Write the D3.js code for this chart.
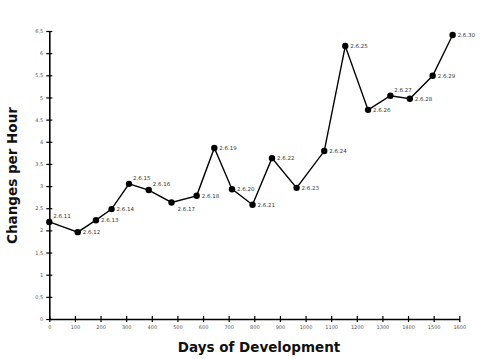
<!DOCTYPE html>
<html><head><meta charset="utf-8">
<script src="https://cdn.jsdelivr.net/npm/d3@7"></script>
<style>body{margin:0;background:#fff}svg{display:block}</style>
</head><body>
<script>
const versions = ["2.6.11","2.6.12","2.6.13","2.6.14","2.6.15","2.6.16","2.6.17","2.6.18","2.6.19","2.6.20","2.6.21","2.6.22","2.6.23","2.6.24","2.6.25","2.6.26","2.6.27","2.6.28","2.6.29","2.6.30"];
const days = [0,111,182,243,311,388,477,575,644,713,793,869,965,1073,1155,1244,1331,1407,1496,1574];
const changes = [2.19,1.96,2.23,2.48,3.05,2.91,2.63,2.78,3.86,2.93,2.58,3.63,2.96,3.79,6.16,4.72,5.04,4.97,5.49,6.41];
// label placement: 0 = right, 1 = above-right, 2 = below-right
const labelPos = [1,0,0,0,1,1,2,0,0,0,0,0,0,0,0,0,1,0,0,0];
const xTicks = d3.range(0,1601,100);
const yTicks = [0,0.5,1,1.5,2,2.5,3,3.5,4,4.5,5,5.5,6,6.5];
const yTickLabels = ["0","0,5","1","1,5","2","2,5","3","3,5","4","4,5","5","5,5","6","6,5"];

const W=480,H=359;
const svg=d3.select("body").append("svg").attr("width",W).attr("height",H);
const x=d3.scaleLinear().domain([0,1600]).range([49.3,459.3]);
const y=d3.scaleLinear().domain([0,6.5]).range([319,31]);

const xa=svg.append("g").attr("transform","translate(0,319)")
  .call(d3.axisBottom(x).tickValues(xTicks).tickFormat(d3.format("d")).tickSize(3).tickSizeOuter(0).tickPadding(3));
xa.selectAll(".tick line").attr("y1",-3);
const ya=svg.append("g").attr("transform","translate(49.3,0)")
  .call(d3.axisLeft(y).tickValues(yTicks).tickFormat((d,i)=>yTickLabels[i]).tickSize(3).tickSizeOuter(0).tickPadding(3));
ya.selectAll(".tick line").attr("x1",3);
[xa,ya].forEach(g=>{
  g.select(".domain").attr("stroke","#000").attr("stroke-width",1.6);
  g.selectAll(".tick line").attr("stroke","#000").attr("stroke-width",1.2);
  g.selectAll(".tick text").attr("fill","#555").style("font-family","DejaVu Sans").style("font-size","5px");
});

const line=d3.line().x((d,i)=>x(days[i])).y((d,i)=>y(changes[i]));
svg.append("path").datum(changes).attr("d",line).attr("fill","none").attr("stroke","#000").attr("stroke-width",1.4);
svg.selectAll("circle.pt").data(changes).join("circle").attr("class","pt")
  .attr("cx",(d,i)=>x(days[i])).attr("cy",d=>y(d)).attr("r",3.2).attr("fill","#000");
svg.selectAll("text.lbl").data(versions).join("text").attr("class","lbl")
  .attr("x",(d,i)=>x(days[i]) + (labelPos[i]===0?5:(labelPos[i]===2?6:4)))
  .attr("y",(d,i)=>y(changes[i]) + (labelPos[i]===0?2:(labelPos[i]===1?-4:9)))
  .text(d=>d).attr("fill","#333").style("font-family","DejaVu Sans").style("font-size","5.5px");

svg.append("text").attr("x",259).attr("y",352).attr("text-anchor","middle")
  .style("font-family","DejaVu Sans").style("font-weight","bold").style("font-size","13.5px").attr("fill","#111")
  .text("Days of Development");
svg.append("text").attr("transform","translate(17,175.5) rotate(-90)").attr("text-anchor","middle")
  .style("font-family","DejaVu Sans").style("font-weight","bold").style("font-size","13.5px").attr("fill","#111")
  .text("Changes per Hour");
</script>
</body></html>
